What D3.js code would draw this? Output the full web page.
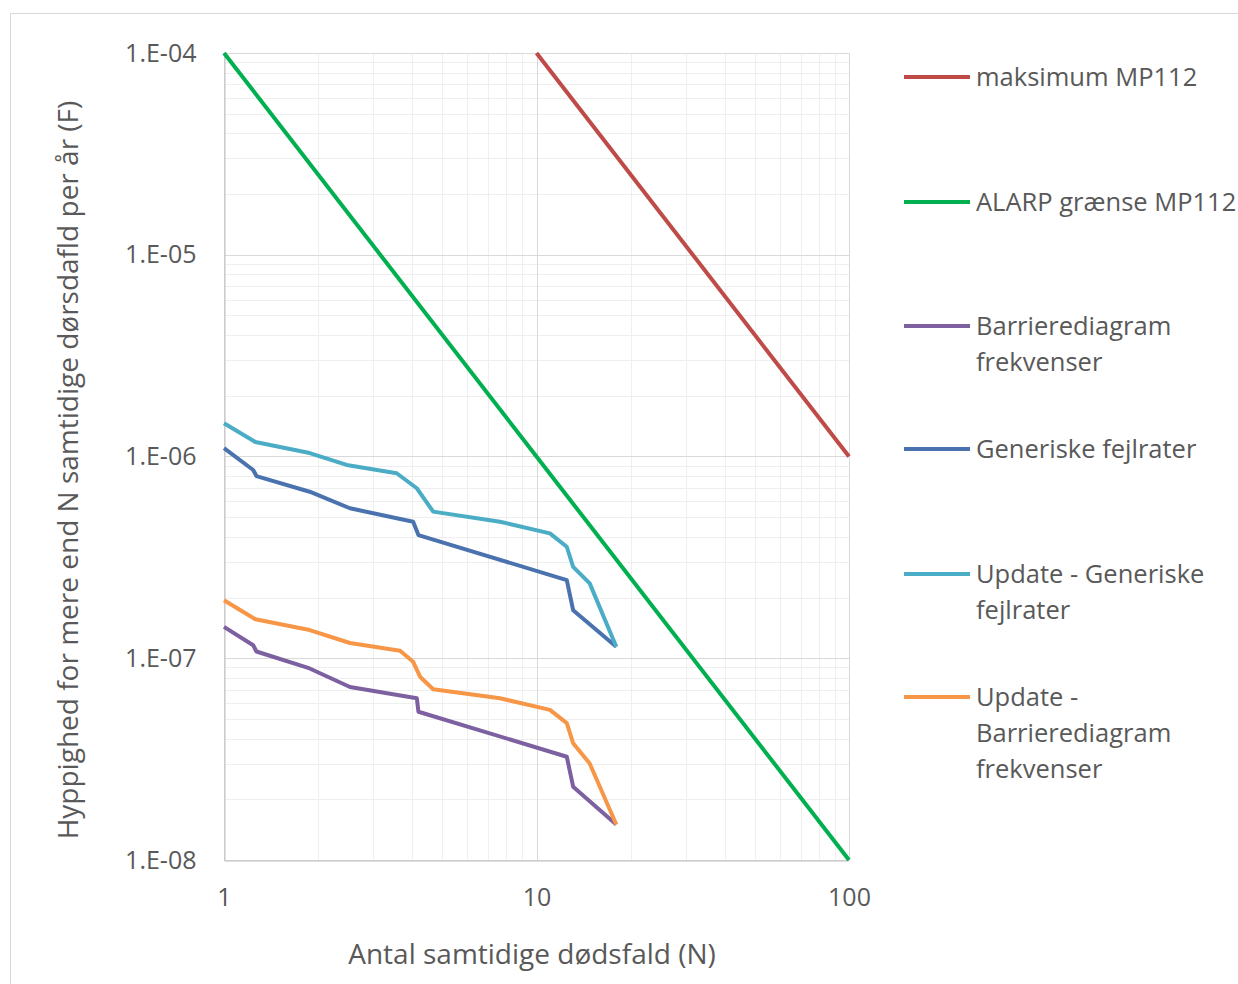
<!DOCTYPE html>
<html>
<head>
<meta charset="utf-8">
<script src="https://cdn.jsdelivr.net/npm/d3@7"></script>
<style>
body { margin: 0; background: #fff; }
text { font-family: "Open Sans", sans-serif; fill: #595959; }
</style>
</head>
<body>
<script>
// N (antal dødsfald) og F (hyppighed) for hver kurve
let maksN = [10, 100];
let maksF = [1e-4, 1e-6];
let alarpN = [1, 100];
let alarpF = [1e-4, 1e-8];
let barN = [1, 1.24, 1.27, 1.88, 2.53, 4.14, 4.19, 12.5, 13.1, 18];
let barF = [1.43e-7, 1.16e-7, 1.08e-7, 8.9e-8, 7.2e-8, 6.33e-8, 5.43e-8, 3.25e-8, 2.31e-8, 1.5e-8];
let genN = [1, 1.24, 1.27, 1.88, 2.53, 4.03, 4.19, 12.5, 13.1, 18];
let genF = [1.10e-6, 8.57e-7, 8.0e-7, 6.69e-7, 5.54e-7, 4.75e-7, 4.08e-7, 2.44e-7, 1.73e-7, 1.14e-7];
let updGenN = [1, 1.26, 1.88, 2.47, 3.57, 4.14, 4.67, 7.64, 11.04, 12.5, 13.1, 14.8, 18];
let updGenF = [1.46e-6, 1.18e-6, 1.04e-6, 9.08e-7, 8.26e-7, 6.96e-7, 5.33e-7, 4.75e-7, 4.16e-7, 3.57e-7, 2.84e-7, 2.35e-7, 1.14e-7];
let updBarN = [1, 1.26, 1.88, 2.53, 3.66, 4.03, 4.24, 4.67, 7.64, 11.04, 12.5, 13.1, 14.8, 18];
let updBarF = [1.94e-7, 1.56e-7, 1.38e-7, 1.19e-7, 1.09e-7, 9.6e-8, 8.1e-8, 7.02e-8, 6.33e-8, 5.55e-8, 4.77e-8, 3.79e-8, 3.01e-8, 1.5e-8];

let seriesNames = ["maksimum MP112", "ALARP grænse MP112", "Barrierediagram\nfrekvenser",
  "Generiske fejlrater", "Update - Generiske\nfejlrater", "Update -\nBarrierediagram\nfrekvenser"];
let seriesColors = ["#BE4B48", "#00B050", "#7D60A0", "#4A72AE", "#4BACC6", "#F79646"];
let xTicks = [1, 10, 100];
let yTicks = [1e-4, 1e-5, 1e-6, 1e-7, 1e-8];

let series = [
  d3.zip(maksN, maksF), d3.zip(alarpN, alarpF), d3.zip(barN, barF),
  d3.zip(genN, genF), d3.zip(updGenN, updGenF), d3.zip(updBarN, updBarF)
];

let svg = d3.select("body").append("svg")
  .attr("width", 1238).attr("height", 984);

svg.append("rect").attr("x", 10.5).attr("y", 13.5).attr("width", 1240).attr("height", 990)
  .attr("fill", "#fff").attr("stroke", "#d9d9d9");

let x = d3.scaleLog().domain([1, 100]).range([224, 849]);
let y = d3.scaleLog().domain([1e-8, 1e-4]).range([860, 53]);

let grid = svg.append("g");
// minor gridlines
let minorX = [], minorY = [];
for (let d = 1; d < 100; d *= 10) for (let k = 2; k <= 9; k++) minorX.push(d * k);
for (let d = 1e-8; d < 1e-4 * 0.99; d *= 10) for (let k = 2; k <= 9; k++) minorY.push(d * k);
grid.selectAll(".mx").data(minorX).enter().append("line")
  .attr("x1", d => Math.round(x(d)) + 0.5).attr("x2", d => Math.round(x(d)) + 0.5)
  .attr("y1", y(1e-4)).attr("y2", y(1e-8)).attr("stroke", "#efefef");
grid.selectAll(".my").data(minorY).enter().append("line")
  .attr("y1", d => Math.round(y(d)) + 0.5).attr("y2", d => Math.round(y(d)) + 0.5)
  .attr("x1", x(1)).attr("x2", x(100)).attr("stroke", "#efefef");
// major gridlines
grid.selectAll(".Mx").data(xTicks).enter().append("line")
  .attr("x1", d => Math.round(x(d)) + 0.5).attr("x2", d => Math.round(x(d)) + 0.5)
  .attr("y1", y(1e-4)).attr("y2", y(1e-8)).attr("stroke", "#d9d9d9");
grid.selectAll(".My").data(yTicks).enter().append("line")
  .attr("y1", d => Math.round(y(d)) + 0.5).attr("y2", d => Math.round(y(d)) + 0.5)
  .attr("x1", x(1)).attr("x2", x(100)).attr("stroke", "#d9d9d9");

// axes
let xAxis = d3.axisBottom(x).tickValues(xTicks).tickSize(0).tickPadding(27).tickFormat(d3.format("d"));
let gx = svg.append("g").attr("transform", "translate(0,860.5)").call(xAxis);
let yAxis = d3.axisLeft(y).tickValues(yTicks).tickSize(0).tickPadding(28)
  .tickFormat(d => "1.E-0" + Math.round(-Math.log10(d)));
let gy = svg.append("g").attr("transform", "translate(224.5,0)").call(yAxis);
[gx, gy].forEach(g => {
  g.select(".domain").attr("stroke", "#bfbfbf");
  g.selectAll("text").style("font-size", "25px").attr("fill", "#595959").style("font-family", "Open Sans");
});
gx.selectAll("text").attr("dy", "0.75em");

// lines
let line = d3.line().x(d => x(d[0])).y(d => y(d[1]));
svg.append("g").selectAll("path").data(series).enter().append("path")
  .attr("d", line).attr("fill", "none")
  .attr("stroke", (d, i) => seriesColors[i]).attr("stroke-width", 4)
  .attr("stroke-linejoin", "round");

// axis titles
svg.append("text").attr("x", 532).attr("y", 964).attr("text-anchor", "middle")
  .style("font-size", "28px").text("Antal samtidige dødsfald (N)");
svg.append("text").attr("transform", "translate(78,470) rotate(-90)").attr("text-anchor", "middle")
  .style("font-size", "28px").text("Hyppighed for mere end N samtidige dørsdafld per år (F)");

// legend
let legendY = [77, 202, 326, 449, 574, 697];
let leg = svg.append("g").selectAll("g").data(seriesNames).enter().append("g")
  .attr("transform", (d, i) => "translate(904," + legendY[i] + ")");
leg.append("line").attr("x1", 0).attr("x2", 66).attr("stroke", (d, i) => seriesColors[i]).attr("stroke-width", 4);
leg.append("text").attr("x", 72).attr("y", 9).style("font-size", "25.5px")
  .selectAll("tspan").data(d => d.split("\n")).enter().append("tspan")
  .attr("x", 72).attr("dy", (d, i) => i ? 36 : 0).text(d => d);
</script>
</body>
</html>
